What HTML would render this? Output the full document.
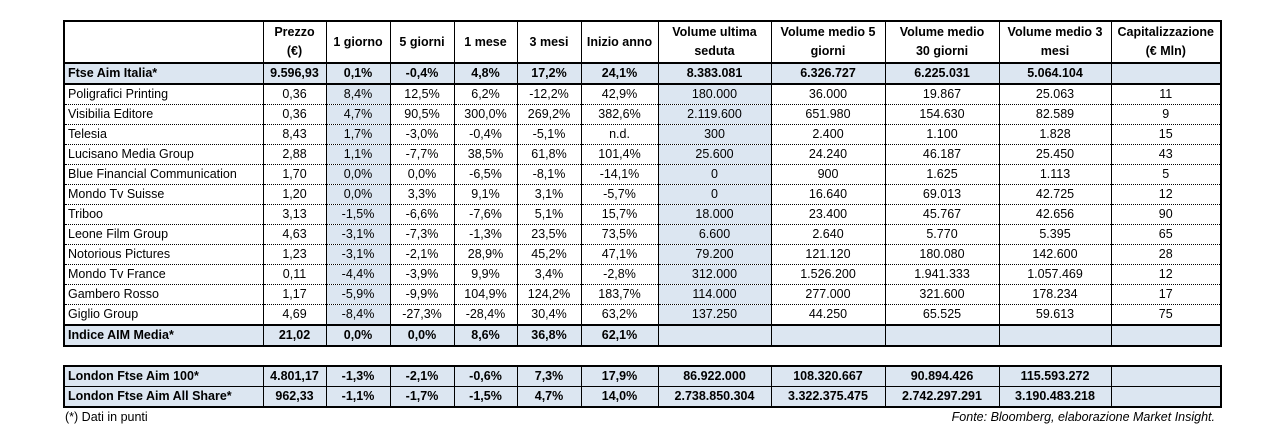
<!DOCTYPE html>
<html><head><meta charset="utf-8">
<style>
body{margin:0;width:1285px;height:429px;background:#fff;position:relative;font-family:"Liberation Sans",Arial,sans-serif;font-size:12.5px;color:#000;overflow:hidden}
table{position:absolute;left:63px;border-collapse:collapse;table-layout:fixed}
td{border-left:1px solid #000;border-right:1px solid #000;border-bottom:1px dotted #000;text-align:center;padding:0;height:19px;line-height:19px;white-space:nowrap;overflow:hidden}
td.n{text-align:left;padding-left:3px}
tr.b td{font-weight:bold;background:#dce6f1;border-bottom:1px solid #000}
td.bl{background:#dce6f1}
tr.h td{height:40px;font-weight:bold;line-height:19px;border-bottom:2px solid #000}
tr.thick td{border-bottom:2px solid #000}
</style></head><body>
<table style="top:20px;width:1158px;border:2px solid #000">
<colgroup><col style="width:199px"><col style="width:63px"><col style="width:64px"><col style="width:64px"><col style="width:63px"><col style="width:64px"><col style="width:77px"><col style="width:113px"><col style="width:114px"><col style="width:114px"><col style="width:112px"><col style="width:110px"></colgroup>
<tr class="h"><td></td><td>Prezzo<br>(€)</td><td>1 giorno</td><td>5 giorni</td><td>1 mese</td><td>3 mesi</td><td>Inizio anno</td><td>Volume ultima<br>seduta</td><td>Volume medio 5<br>giorni</td><td>Volume medio<br>30 giorni</td><td>Volume medio 3<br>mesi</td><td>Capitalizzazione<br>(€ Mln)</td></tr>
<tr class="b thick"><td class="n">Ftse Aim Italia*</td><td>9.596,93</td><td>0,1%</td><td>-0,4%</td><td>4,8%</td><td>17,2%</td><td>24,1%</td><td>8.383.081</td><td>6.326.727</td><td>6.225.031</td><td>5.064.104</td><td></td></tr>
<tr><td class="n">Poligrafici Printing</td><td>0,36</td><td class="bl">8,4%</td><td>12,5%</td><td>6,2%</td><td>-12,2%</td><td>42,9%</td><td class="bl">180.000</td><td>36.000</td><td>19.867</td><td>25.063</td><td>11</td></tr>
<tr><td class="n">Visibilia Editore</td><td>0,36</td><td class="bl">4,7%</td><td>90,5%</td><td>300,0%</td><td>269,2%</td><td>382,6%</td><td class="bl">2.119.600</td><td>651.980</td><td>154.630</td><td>82.589</td><td>9</td></tr>
<tr><td class="n">Telesia</td><td>8,43</td><td class="bl">1,7%</td><td>-3,0%</td><td>-0,4%</td><td>-5,1%</td><td>n.d.</td><td class="bl">300</td><td>2.400</td><td>1.100</td><td>1.828</td><td>15</td></tr>
<tr><td class="n">Lucisano Media Group</td><td>2,88</td><td class="bl">1,1%</td><td>-7,7%</td><td>38,5%</td><td>61,8%</td><td>101,4%</td><td class="bl">25.600</td><td>24.240</td><td>46.187</td><td>25.450</td><td>43</td></tr>
<tr><td class="n">Blue Financial Communication</td><td>1,70</td><td class="bl">0,0%</td><td>0,0%</td><td>-6,5%</td><td>-8,1%</td><td>-14,1%</td><td class="bl">0</td><td>900</td><td>1.625</td><td>1.113</td><td>5</td></tr>
<tr><td class="n">Mondo Tv Suisse</td><td>1,20</td><td class="bl">0,0%</td><td>3,3%</td><td>9,1%</td><td>3,1%</td><td>-5,7%</td><td class="bl">0</td><td>16.640</td><td>69.013</td><td>42.725</td><td>12</td></tr>
<tr><td class="n">Triboo</td><td>3,13</td><td class="bl">-1,5%</td><td>-6,6%</td><td>-7,6%</td><td>5,1%</td><td>15,7%</td><td class="bl">18.000</td><td>23.400</td><td>45.767</td><td>42.656</td><td>90</td></tr>
<tr><td class="n">Leone Film Group</td><td>4,63</td><td class="bl">-3,1%</td><td>-7,3%</td><td>-1,3%</td><td>23,5%</td><td>73,5%</td><td class="bl">6.600</td><td>2.640</td><td>5.770</td><td>5.395</td><td>65</td></tr>
<tr><td class="n">Notorious Pictures</td><td>1,23</td><td class="bl">-3,1%</td><td>-2,1%</td><td>28,9%</td><td>45,2%</td><td>47,1%</td><td class="bl">79.200</td><td>121.120</td><td>180.080</td><td>142.600</td><td>28</td></tr>
<tr><td class="n">Mondo Tv France</td><td>0,11</td><td class="bl">-4,4%</td><td>-3,9%</td><td>9,9%</td><td>3,4%</td><td>-2,8%</td><td class="bl">312.000</td><td>1.526.200</td><td>1.941.333</td><td>1.057.469</td><td>12</td></tr>
<tr><td class="n">Gambero Rosso</td><td>1,17</td><td class="bl">-5,9%</td><td>-9,9%</td><td>104,9%</td><td>124,2%</td><td>183,7%</td><td class="bl">114.000</td><td>277.000</td><td>321.600</td><td>178.234</td><td>17</td></tr>
<tr class="thick"><td class="n">Giglio Group</td><td>4,69</td><td class="bl">-8,4%</td><td>-27,3%</td><td>-28,4%</td><td>30,4%</td><td>63,2%</td><td class="bl">137.250</td><td>44.250</td><td>65.525</td><td>59.613</td><td>75</td></tr>
<tr class="b"><td class="n">Indice AIM Media*</td><td>21,02</td><td>0,0%</td><td>0,0%</td><td>8,6%</td><td>36,8%</td><td>62,1%</td><td></td><td></td><td></td><td></td><td></td></tr>
</table>
<table style="top:365px;width:1158px;border:2px solid #000">
<colgroup><col style="width:199px"><col style="width:63px"><col style="width:64px"><col style="width:64px"><col style="width:63px"><col style="width:64px"><col style="width:77px"><col style="width:113px"><col style="width:114px"><col style="width:114px"><col style="width:112px"><col style="width:110px"></colgroup>
<tr class="b"><td class="n">London Ftse Aim 100*</td><td>4.801,17</td><td>-1,3%</td><td>-2,1%</td><td>-0,6%</td><td>7,3%</td><td>17,9%</td><td>86.922.000</td><td>108.320.667</td><td>90.894.426</td><td>115.593.272</td><td></td></tr>
<tr class="b"><td class="n">London Ftse Aim All Share*</td><td>962,33</td><td>-1,1%</td><td>-1,7%</td><td>-1,5%</td><td>4,7%</td><td>14,0%</td><td>2.738.850.304</td><td>3.322.375.475</td><td>2.742.297.291</td><td>3.190.483.218</td><td></td></tr>
</table>
<div style="position:absolute;left:65px;top:410px;font-size:12.5px">(*) Dati in punti</div>
<div style="position:absolute;right:70px;top:410px;font-size:12.5px;font-style:italic">Fonte: Bloomberg, elaborazione Market Insight.</div>
</body></html>
